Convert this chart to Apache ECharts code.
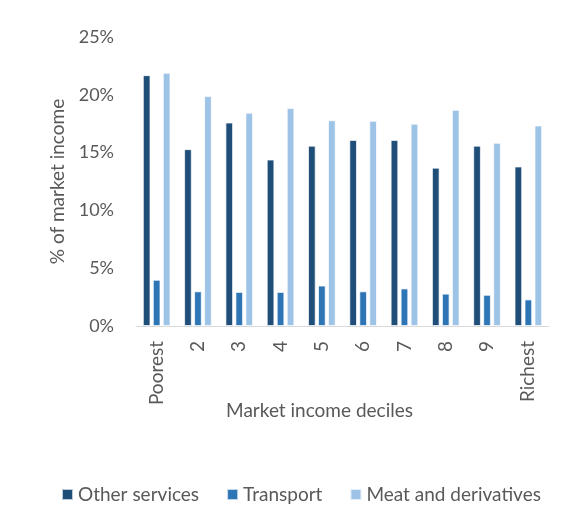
<!DOCTYPE html>
<html><head><meta charset="utf-8">
<script src="https://cdn.jsdelivr.net/npm/echarts@6/dist/echarts.min.js"></script>
<style>html,body{margin:0;padding:0;background:#fff}#c{width:569px;height:526px}</style>
</head><body><div id="c"></div>
<script>
const categories = ['Poorest','2','3','4','5','6','7','8','9','Richest'];
const otherServices = [21.7,15.3,17.6,14.4,15.6,16.1,16.1,13.7,15.6,13.8];
const transport = [4.0,3.0,2.95,2.95,3.5,3.0,3.25,2.8,2.7,2.3];
const meat = [21.9,19.9,18.45,18.85,17.8,17.75,17.5,18.7,15.85,17.35];
const yTicks = [0,5,10,15,20,25];

const font = 'Lato, "Open Sans", sans-serif';
const chart = echarts.init(document.getElementById('c'), null, {renderer:'canvas'});
const mk = (name, data, color) => ({
  name, type:'bar', data, barGap:'30%', barCategoryGap:'33%',
  itemStyle:{color, borderColor:'rgba(255,255,255,0.7)', borderWidth:1}
});
chart.setOption({
  animation:false,
  textStyle:{fontFamily:font},
  grid:{left:136, right:20, top:37, bottom:200, containLabel:false},
  legend:{
    bottom:17, left:56, itemWidth:11, itemHeight:11, itemGap:27, itemTextGap:5,
    icon:'rect',
    textStyle:{fontSize:19, color:'#595959', fontFamily:font},
    data:['Other services','Transport','Meat and derivatives']
  },
  xAxis:{
    type:'category', data:categories,
    axisLine:{show:true, lineStyle:{color:'#D9D9D9', width:1}},
    axisTick:{show:false},
    axisLabel:{rotate:90, fontSize:19, color:'#595959', margin:15, interval:0, fontFamily:font},
    name:'Market income deciles', nameLocation:'middle', nameGap:75, nameMoveOverlap:false,
    nameTextStyle:{fontSize:19, color:'#595959', fontFamily:font, padding:[0,46,0,0]}
  },
  yAxis:{
    type:'value', min:yTicks[0], max:yTicks[yTicks.length-1], interval:5,
    axisLine:{show:false}, axisTick:{show:false}, splitLine:{show:false},
    axisLabel:{formatter:v=>v+'%', fontSize:18, color:'#595959', margin:22, fontFamily:font},
    name:'% of market income', nameLocation:'middle', nameGap:68,
    nameTextStyle:{fontSize:19, color:'#595959', fontFamily:font}
  },
  series:[
    mk('Other services', otherServices, '#1F4E79'),
    mk('Transport', transport, '#2E75B6'),
    mk('Meat and derivatives', meat, '#9DC3E6')
  ]
});
</script></body></html>
